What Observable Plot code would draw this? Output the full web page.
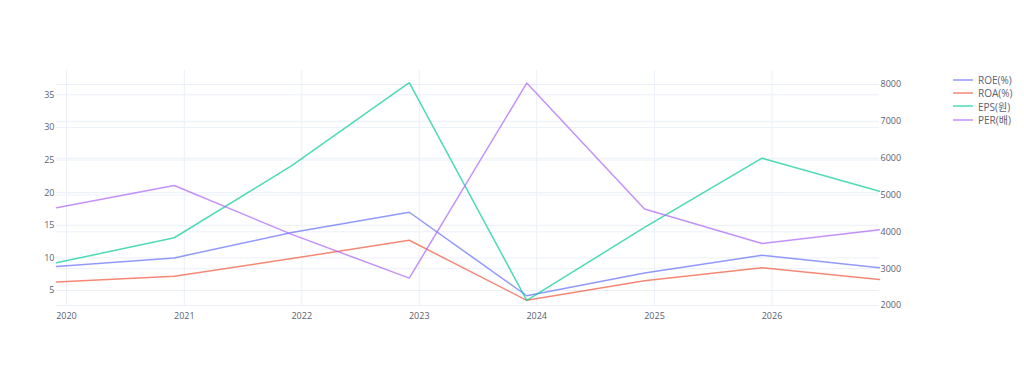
<!DOCTYPE html>
<html>
<head>
<meta charset="utf-8">
<script src="https://cdn.jsdelivr.net/npm/d3@7"></script>
<script src="https://cdn.jsdelivr.net/npm/@observablehq/plot@0.6"></script>
<style>
  html, body { margin: 0; padding: 0; background: #fff; }
  #wrap { position: relative; width: 1024px; height: 369px; }
  #legend { position: absolute; left: 952px; top: 73px; font-family: "Open Sans", "Noto Sans CJK KR", sans-serif; font-size: 10px; color: #5a6170; }
  #legend div { display: flex; align-items: center; height: 13.4px; }
  #legend svg { margin-right: 3px; }
</style>
</head>
<body>
<div id="wrap"></div>
<script>
const periods = ["2019-12", "2020-12", "2021-12", "2022-12", "2023-12", "2024-12", "2025-12", "2026-12"];
const roe = [8.7, 10.0, 13.9, 17.0, 4.2, 7.7, 10.4, 8.5];
const roa = [6.3, 7.2, 9.9, 12.7, 3.5, 6.5, 8.5, 6.7];
const eps = [3160, 3840, 5800, 8050, 2140, 4120, 6000, 5100];
const per = [17.7, 21.1, 13.6, 6.9, 36.8, 17.5, 12.2, 14.3];
const seriesNames = ["ROE(%)", "ROA(%)", "EPS(원)", "PER(배)"];
const colors = ["#636efa", "#EF553B", "#00cc96", "#ab63fa"];
const leftTicks = [5, 10, 15, 20, 25, 30, 35];
const rightTicks = [2000, 3000, 4000, 5000, 6000, 7000, 8000];
const yearTicks = [2020, 2021, 2022, 2023, 2024, 2025, 2026];

const leftDomain = [2.55, 38.73];
const rightDomain = [1973, 8381];
const toLeft = v => leftDomain[0] + (v - rightDomain[0]) * (leftDomain[1] - leftDomain[0]) / (rightDomain[1] - rightDomain[0]);
const fromLeft = v => rightDomain[0] + (v - leftDomain[0]) * (rightDomain[1] - rightDomain[0]) / (leftDomain[1] - leftDomain[0]);

const parseP = s => { const [y, m] = s.split("-").map(Number); return new Date(Date.UTC(y, m - 1, 1)); };
const rows = [];
periods.forEach((p, i) => {
  rows.push({date: parseP(p), series: seriesNames[0], v: roe[i]});
  rows.push({date: parseP(p), series: seriesNames[1], v: roa[i]});
  rows.push({date: parseP(p), series: seriesNames[2], v: toLeft(eps[i])});
  rows.push({date: parseP(p), series: seriesNames[3], v: per[i]});
});
const yearDates = yearTicks.map(y => new Date(Date.UTC(y, 0, 1)));
const grid = "#EBF0F8";
const tickColor = "#5a6170";
const font = "'Open Sans', 'Noto Sans CJK KR', sans-serif";

const chart = Plot.plot({
  width: 1024,
  height: 369,
  marginLeft: 56,
  marginRight: 145,
  marginTop: 70,
  marginBottom: 63,
  style: {fontFamily: font, fontSize: "9px", color: tickColor, background: "#fff"},
  x: {type: "utc", domain: [parseP(periods[0]), parseP(periods[periods.length - 1])]},
  y: {domain: leftDomain},
  color: {domain: seriesNames, range: colors},
  marks: [
    Plot.gridX(yearDates, {stroke: grid, strokeOpacity: 1, strokeWidth: 1}),
    Plot.gridY(leftTicks, {stroke: grid, strokeOpacity: 1, strokeWidth: 1}),
    Plot.gridY(rightTicks.map(toLeft), {stroke: grid, strokeOpacity: 1, strokeWidth: 1}),
    Plot.axisX(yearDates, {tickSize: 0, tickPadding: 6, tickFormat: d3.utcFormat("%Y"), label: null, fill: tickColor, fontSize: 9}),
    Plot.axisY(leftTicks, {anchor: "left", tickSize: 0, tickPadding: 2, label: null, fill: tickColor, fontSize: 9}),
    Plot.axisY(rightTicks.map(toLeft), {anchor: "right", tickSize: 0, tickPadding: 1, label: null, tickFormat: d => String(Math.round(fromLeft(d))), fill: tickColor, fontSize: 9}),
    Plot.line(rows, {x: "date", y: "v", z: "series", stroke: "series", strokeWidth: 1.5, strokeOpacity: 0.7})
  ]
});

const wrap = document.getElementById("wrap");
wrap.appendChild(chart);
const legend = document.createElement("div");
legend.id = "legend";
seriesNames.forEach((n, i) => {
  const row = document.createElement("div");
  row.innerHTML = `<svg width="23" height="4"><line x1="1" x2="21" y1="2" y2="2" stroke="${colors[i]}" stroke-width="1.5" stroke-opacity="0.7"/></svg><span>${n}</span>`;
  legend.appendChild(row);
});
wrap.appendChild(legend);
</script>
</body>
</html>
